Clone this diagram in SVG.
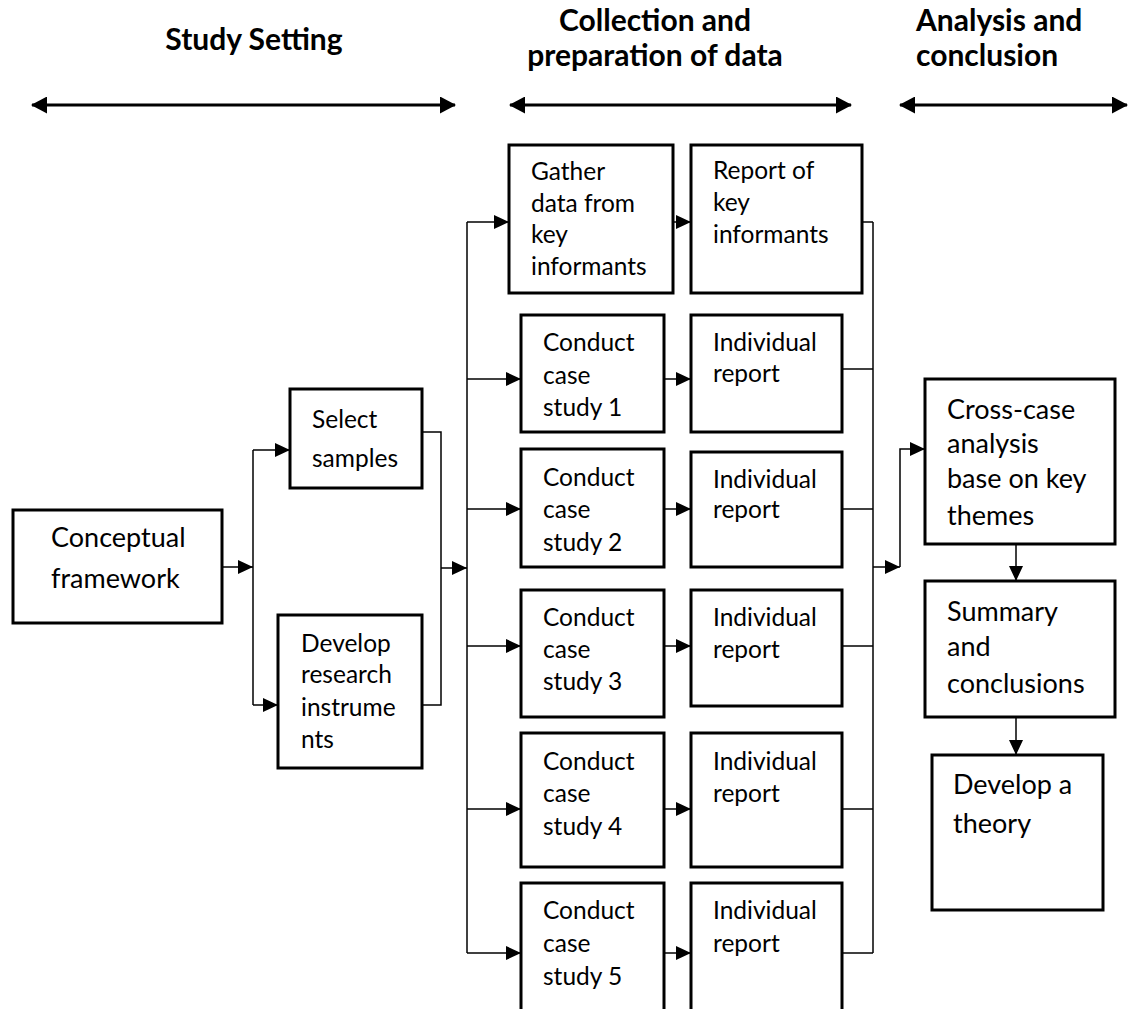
<svg xmlns="http://www.w3.org/2000/svg" width="1129" height="1009" viewBox="0 0 1129 1009">
  <style>
    .box { fill: #ffffff; stroke: #000000; stroke-width: 3; }
    .t { font-family: Lato, "Open Sans", "Liberation Sans", sans-serif; font-size: 24.5px; fill: #000000; }
    .tl { font-family: Lato, "Open Sans", "Liberation Sans", sans-serif; font-size: 27px; fill: #000000; }
    .hd { font-family: Lato, "Open Sans", "Liberation Sans", sans-serif; font-size: 30px; font-weight: bold; fill: #000000; }
    .conn { fill: none; stroke: #000000; stroke-width: 1.5; }
    .arr { fill: none; stroke: #000000; stroke-width: 1.5; marker-end: url(#head); }
    .phase { fill: none; stroke: #000000; stroke-width: 3; marker-start: url(#bighead); marker-end: url(#bighead); }
  </style>
  <defs>
    <marker id="head" markerUnits="userSpaceOnUse" markerWidth="15" markerHeight="14" refX="15" refY="7" orient="auto">
      <path d="M0,0 L15,7 L0,14 z" fill="#000000"/>
    </marker>
    <marker id="bighead" markerUnits="userSpaceOnUse" markerWidth="16" markerHeight="17" refX="15" refY="8.5" orient="auto-start-reverse">
      <path d="M0,0 L16,8.5 L0,17 z" fill="#000000"/>
    </marker>
  </defs>

  <rect width="1129" height="1009" fill="#ffffff"/>

  <!-- phase headings -->
  <g id="phase-setting">
    <text class="hd" x="254" y="50" text-anchor="middle">Study Setting</text>
    <line class="phase" x1="32" y1="105" x2="455" y2="105"/>
  </g>
  <g id="phase-collection">
    <text class="hd" x="655" y="31" text-anchor="middle">Collection and</text>
    <text class="hd" x="655" y="66" text-anchor="middle">preparation of data</text>
    <line class="phase" x1="510" y1="105" x2="851" y2="105"/>
  </g>
  <g id="phase-analysis">
    <text class="hd" x="916" y="31">Analysis and</text>
    <text class="hd" x="916" y="66">conclusion</text>
    <line class="phase" x1="900" y1="105" x2="1127" y2="105"/>
  </g>

  <!-- connectors -->
  <g id="connectors">
    <line class="arr" x1="222" y1="567" x2="253" y2="567"/>
    <line class="conn" x1="253" y1="450" x2="253" y2="705"/>
    <line class="arr" x1="253" y1="450" x2="290" y2="450"/>
    <line class="arr" x1="253" y1="705" x2="278" y2="705"/>
    <polyline class="conn" points="422,432 441,432 441,705 422,705"/>
    <line class="arr" x1="441" y1="568" x2="467" y2="568"/>
    <line class="conn" x1="467" y1="222" x2="467" y2="953"/>
    <line class="arr" x1="467" y1="222" x2="509" y2="222"/>
    <line class="arr" x1="467" y1="379" x2="521" y2="379"/>
    <line class="arr" x1="467" y1="509" x2="521" y2="509"/>
    <line class="arr" x1="467" y1="646" x2="521" y2="646"/>
    <line class="arr" x1="467" y1="809" x2="521" y2="809"/>
    <line class="arr" x1="467" y1="953" x2="521" y2="953"/>
    <line class="arr" x1="673" y1="222" x2="691" y2="222"/>
    <line class="arr" x1="664" y1="379" x2="691" y2="379"/>
    <line class="arr" x1="664" y1="509" x2="691" y2="509"/>
    <line class="arr" x1="664" y1="646" x2="691" y2="646"/>
    <line class="arr" x1="664" y1="809" x2="691" y2="809"/>
    <line class="arr" x1="664" y1="953" x2="691" y2="953"/>
    <line class="conn" x1="862" y1="222" x2="873" y2="222"/>
    <line class="conn" x1="842" y1="369" x2="873" y2="369"/>
    <line class="conn" x1="842" y1="509" x2="873" y2="509"/>
    <line class="conn" x1="842" y1="646" x2="873" y2="646"/>
    <line class="conn" x1="842" y1="809" x2="873" y2="809"/>
    <line class="conn" x1="842" y1="953" x2="873" y2="953"/>
    <line class="conn" x1="873" y1="222" x2="873" y2="953"/>
    <line class="arr" x1="873" y1="567" x2="900" y2="567"/>
    <polyline class="arr" points="900,567 900,449 925,449"/>
    <line class="arr" x1="1016" y1="544" x2="1016" y2="581"/>
    <line class="arr" x1="1016" y1="717" x2="1016" y2="755"/>
  </g>

  <!-- nodes -->
  <g id="conceptual-framework">
    <rect class="box" x="13" y="510" width="209" height="113"/>
    <text class="tl" x="51" y="547">Conceptual</text>
    <text class="tl" x="51" y="588">framework</text>
  </g>
  <g id="select-samples">
    <rect class="box" x="290" y="389" width="132" height="99"/>
    <text class="t" x="312" y="428">Select</text>
    <text class="t" x="312" y="467">samples</text>
  </g>
  <g id="develop-instruments">
    <rect class="box" x="278" y="615" width="144" height="153"/>
    <text class="t" x="301" y="652">Develop</text>
    <text class="t" x="301" y="683">research</text>
    <text class="t" x="301" y="716">instrume</text>
    <text class="t" x="301" y="748">nts</text>
  </g>
  <g id="gather-data">
    <rect class="box" x="509" y="145" width="164" height="148"/>
    <text class="t" x="531" y="180">Gather</text>
    <text class="t" x="531" y="212">data from</text>
    <text class="t" x="531" y="243">key</text>
    <text class="t" x="531" y="275">informants</text>
  </g>
  <g id="report-key-informants">
    <rect class="box" x="691" y="145" width="171" height="148"/>
    <text class="t" x="713" y="179">Report of</text>
    <text class="t" x="713" y="211">key</text>
    <text class="t" x="713" y="243">informants</text>
  </g>
  <g id="case-study-1">
    <rect class="box" x="521" y="315" width="143" height="117"/>
    <text class="t" x="543" y="351">Conduct</text>
    <text class="t" x="543" y="384">case</text>
    <text class="t" x="543" y="416">study 1</text>
  </g>
  <g id="report-1">
    <rect class="box" x="691" y="315" width="151" height="117"/>
    <text class="t" x="713" y="351">Individual</text>
    <text class="t" x="713" y="382">report</text>
  </g>
  <g id="case-study-2">
    <rect class="box" x="521" y="449" width="143" height="118"/>
    <text class="t" x="543" y="486">Conduct</text>
    <text class="t" x="543" y="518">case</text>
    <text class="t" x="543" y="551">study 2</text>
  </g>
  <g id="report-2">
    <rect class="box" x="691" y="452" width="151" height="115"/>
    <text class="t" x="713" y="488">Individual</text>
    <text class="t" x="713" y="518">report</text>
  </g>
  <g id="case-study-3">
    <rect class="box" x="521" y="590" width="143" height="127"/>
    <text class="t" x="543" y="626">Conduct</text>
    <text class="t" x="543" y="658">case</text>
    <text class="t" x="543" y="690">study 3</text>
  </g>
  <g id="report-3">
    <rect class="box" x="691" y="590" width="151" height="116"/>
    <text class="t" x="713" y="626">Individual</text>
    <text class="t" x="713" y="658">report</text>
  </g>
  <g id="case-study-4">
    <rect class="box" x="521" y="733" width="143" height="134"/>
    <text class="t" x="543" y="770">Conduct</text>
    <text class="t" x="543" y="802">case</text>
    <text class="t" x="543" y="835">study 4</text>
  </g>
  <g id="report-4">
    <rect class="box" x="691" y="733" width="151" height="134"/>
    <text class="t" x="713" y="770">Individual</text>
    <text class="t" x="713" y="802">report</text>
  </g>
  <g id="case-study-5">
    <rect class="box" x="521" y="883" width="143" height="140"/>
    <text class="t" x="543" y="919">Conduct</text>
    <text class="t" x="543" y="952">case</text>
    <text class="t" x="543" y="985">study 5</text>
  </g>
  <g id="report-5">
    <rect class="box" x="691" y="883" width="151" height="140"/>
    <text class="t" x="713" y="919">Individual</text>
    <text class="t" x="713" y="952">report</text>
  </g>
  <g id="cross-case-analysis">
    <rect class="box" x="925" y="379" width="190" height="165"/>
    <text class="tl" x="947" y="419">Cross-case</text>
    <text class="tl" x="947" y="453">analysis</text>
    <text class="tl" x="947" y="488">base on key</text>
    <text class="tl" x="947" y="525">themes</text>
  </g>
  <g id="summary-conclusions">
    <rect class="box" x="925" y="581" width="190" height="136"/>
    <text class="tl" x="947" y="621">Summary</text>
    <text class="tl" x="947" y="656">and</text>
    <text class="tl" x="947" y="693">conclusions</text>
  </g>
  <g id="develop-theory">
    <rect class="box" x="932" y="755" width="171" height="155"/>
    <text class="tl" x="953" y="794">Develop a</text>
    <text class="tl" x="953" y="833">theory</text>
  </g>
</svg>
